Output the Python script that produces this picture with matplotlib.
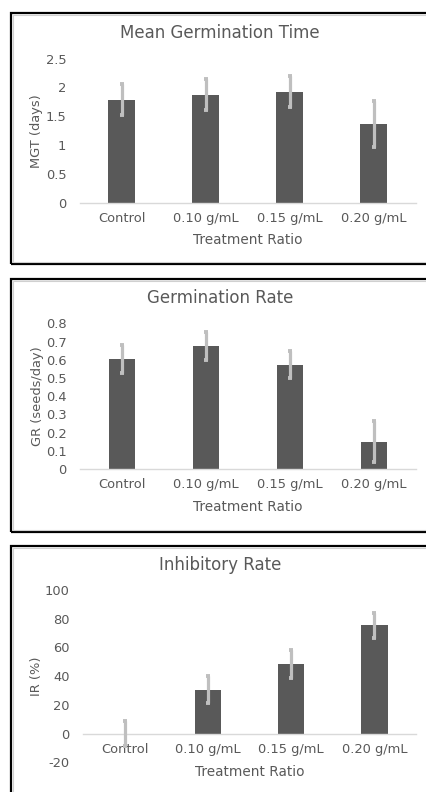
import numpy as np
import matplotlib
matplotlib.use("Agg")
import matplotlib.pyplot as plt
from matplotlib.patches import Rectangle

categories = ["Control", "0.10 g/mL", "0.15 g/mL", "0.20 g/mL"]

mgt = [1.79, 1.875, 1.93, 1.37]
mgt_err = [0.27, 0.27, 0.27, 0.40]

gr = [0.605, 0.675, 0.573, 0.150]
gr_err = [0.078, 0.077, 0.076, 0.113]

ir = [0.0, 30.7, 48.6, 75.3]
ir_err = [8.7, 9.6, 9.6, 8.6]

W, H = 426, 792
TXT = "#595959"
BAR = "#595959"
ERR = "#bfbfbf"
AXLINE = "#d9d9d9"

plt.rcParams["font.family"] = ["DejaVu Sans"]

fig = plt.figure(figsize=(W / 100, H / 100), dpi=100)


def px_axes(l, r, t, b):
    return fig.add_axes([l / W, 1 - b / H, (r - l) / W, (b - t) / H])


def panel(box, axbox, title, title_y, ylabel, values, errs, ylim, yticks, fmt):
    # chart border like the excel chart area
    x0, y0, x1, y1 = box
    fig.patches.append(Rectangle((x0 / W, 1 - y1 / H), (x1 - x0) / W, (y1 - y0) / H,
                                 transform=fig.transFigure, fill=False,
                                 edgecolor="black", lw=1.6))
    fig.patches.append(Rectangle(((x0 + 2) / W, 1 - (y1 - 2) / H), (x1 - x0 - 4) / W, (y1 - y0 - 4) / H,
                                 transform=fig.transFigure, fill=False,
                                 edgecolor="#d0d0d0", lw=0.8))
    fig.text(220 / W, 1 - title_y / H, title, ha="center", va="center",
             fontsize=12, color=TXT)

    ax = px_axes(*axbox)
    x = np.arange(len(categories))
    ax.bar(x, values, width=0.32, color=BAR, zorder=2)
    ax.errorbar(x, values, yerr=errs, fmt="none", ecolor=ERR, elinewidth=2.3,
                capsize=1.7, capthick=2.8, zorder=3)
    ax.set_xlim(-0.5, len(categories) - 0.5)
    ax.set_ylim(*ylim)
    ax.set_yticks(yticks)
    ax.set_yticklabels([fmt(v) for v in yticks])
    ax.set_xticks(x)
    ax.set_xticklabels(categories)
    for s in ["top", "right", "left"]:
        ax.spines[s].set_visible(False)
    ax.spines["bottom"].set_position(("data", 0))
    ax.spines["bottom"].set_color(AXLINE)
    ax.spines["bottom"].set_linewidth(1.0)
    ax.tick_params(axis="both", length=0, colors=TXT, labelsize=9.4)
    ax.tick_params(axis="y", pad=9.5)
    ax.tick_params(axis="x", pad=6.5)
    ax.set_ylabel(ylabel, fontsize=9.4, color=TXT)
    ax.set_xlabel("Treatment Ratio", fontsize=9.8, color=TXT)
    ax.patch.set_alpha(0)
    return ax


ax1 = panel((11, 13, 430, 264), (79.5, 416, 58.5, 203.3), "Mean Germination Time", 32.7,
            "MGT (days)", mgt, mgt_err, (0, 2.5), np.arange(0, 2.51, 0.5),
            lambda v: f"{v:g}")
ax1.xaxis.set_label_coords(0.5, -(240.5 - 203.3) / (203.3 - 58.5))
ax1.yaxis.set_label_coords(-(79.5 - 36.7) / (416 - 79.5), 0.5)

ax2 = panel((11, 279, 430, 532), (80, 416, 323.3, 469), "Germination Rate", 298.3,
            "GR (seeds/day)", gr, gr_err, (0, 0.8), np.round(np.arange(0, 0.81, 0.1), 1),
            lambda v: f"{v:g}")
ax2.xaxis.set_label_coords(0.5, -(507.3 - 469) / (469 - 323.3))
ax2.yaxis.set_label_coords(-(80 - 37.3) / (416 - 80), 0.5)

ax3 = panel((11, 546, 430, 800), (83, 416, 590, 762.3), "Inhibitory Rate", 565,
            "IR (%)", ir, ir_err, (-20, 100), np.arange(-20, 101, 20),
            lambda v: f"{v:g}")
ax3.xaxis.set_label_coords(0.5, -(772.3 - 762.3) / (762.3 - 590))
ax3.yaxis.set_label_coords(-(83 - 36.7) / (416 - 83), 0.5)

for ax in (ax1, ax2, ax3):
    ax.xaxis.label.set_va("center")
    ax.yaxis.label.set_va("center")

fig.savefig("out.png", dpi=100)
